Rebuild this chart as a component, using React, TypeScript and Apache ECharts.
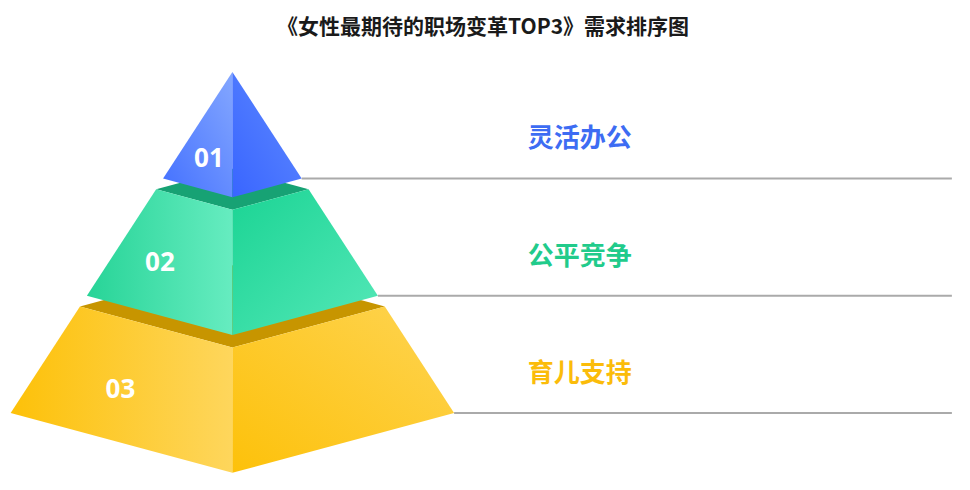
import { useEffect, useRef } from 'react';
import * as echarts from 'echarts';

// ranking of the top 3 demands, top of the pyramid first
const ranks = ['01', '02', '03'];
const demands = ['灵活办公', '公平竞争', '育儿支持'];
const titleText = '《女性最期待的职场变革TOP3》需求排序图';

// colours per tier: left face, right face (with gradient direction), top face, label
const palette = [
  {
    left: ['#4370ff', '#84a7ff'], leftDir: [0, 1, 1, 0],
    right: ['#3965ff', '#5f8aff'], rightDir: [0, 1, 1, 0],
    top: '#2f55d8', label: '#3d6cf3',
  },
  {
    left: ['#27d497', '#66ecc0'], leftDir: [0, 0, 1, 0],
    right: ['#1bd494', '#55e8b8'], rightDir: [0, 0, 1, 1],
    top: '#17a274', label: '#21cb8b',
  },
  {
    left: ['#fdc109', '#fed65c'], leftDir: [0, 0, 1, 0],
    right: ['#fdc10a', '#fed452'], rightDir: [0, 1, 1, 0],
    top: '#c79500', label: '#fbbc0a',
  },
];

// where the rank number sits on each tier's left face: [x, depth below tier top]
const numberPos = [
  [-0.22, 0.8],
  [-0.68, 0.67],
  [-1.05, 0.77],
];

const SLOPE = 0.65; // half width per unit of depth
const TILT = 0.27; // how far the front corner sits below the side corners
const GAP = 0.1;

export default function App() {
  const chartRef = useRef<HTMLDivElement>(null);

  useEffect(() => {
    document.body.style.margin = '0';
    const chart = echarts.init(chartRef.current, null, { renderer: 'svg' });

    const renderItem = (params: any, api: any) => {
      const i = api.value(0);
      const c = palette[i];
      const top = i * (1 + GAP);
      const bot = top + 1;
      const ht = SLOPE * top;
      const hb = SLOPE * bot;
      const p = (x: number, y: number) => api.coord([x, y]);

      const tL = p(-ht, top), tR = p(ht, top), tF = p(0, top + TILT * ht), tB = p(0, top - TILT * ht);
      const bL = p(-hb, bot), bR = p(hb, bot), bF = p(0, bot + TILT * hb);
      const z = 30 - i * 10;
      const grad = (d: number[], cols: string[]) =>
        new echarts.graphic.LinearGradient(d[0], d[1], d[2], d[3], [
          { offset: 0, color: cols[0] },
          { offset: 1, color: cols[1] },
        ]);

      const children: any[] = [
        {
          type: 'polygon',
          z2: z,
          shape: { points: [tL, tB, tR, tF] },
          style: { fill: c.top },
        },
        {
          type: 'polygon',
          z2: z + 1,
          shape: { points: [tL, tF, bF, bL] },
          style: { fill: grad(c.leftDir, c.left) },
        },
        {
          type: 'polygon',
          z2: z + 1,
          shape: { points: [tF, tR, bR, bF] },
          style: { fill: grad(c.rightDir, c.right) },
        },
      ];

      const np = p(numberPos[i][0], top + numberPos[i][1]);
      children.push({
        type: 'text',
        z2: z + 5,
        x: np[0],
        y: np[1],
        style: {
          text: ranks[i],
          fill: '#ffffff',
          fontSize: 26,
          fontWeight: 'bold',
          fontFamily: '"Open Sans", "Noto Sans", sans-serif',
          align: 'center',
          verticalAlign: 'middle',
        },
      });

      const lineEnd = p(6.75, bot);
      children.push({
        type: 'line',
        z2: 1,
        shape: { x1: bR[0], y1: bR[1], x2: lineEnd[0], y2: lineEnd[1] },
        style: { stroke: '#aaaaaa', lineWidth: 2 },
      });

      const lp = p(3.26, bot - 0.4);
      children.push({
        type: 'text',
        z2: 1,
        x: lp[0],
        y: lp[1],
        style: {
          text: demands[i],
          fill: c.label,
          fontSize: 26,
          fontWeight: 'bold',
          fontFamily: '"Noto Sans CJK SC", sans-serif',
          align: 'center',
          verticalAlign: 'middle',
        },
      });

      return { type: 'group', children };
    };

    chart.setOption({
      animation: false,
      title: {
        text: titleText,
        left: 478,
        textAlign: 'center',
        top: 9,
        textStyle: {
          fontSize: 21,
          fontWeight: 'bold',
          color: '#1a1a1a',
          fontFamily: '"Noto Sans CJK SC", sans-serif',
        },
      },
      grid: { left: 0, right: 0, top: 72, bottom: 77 },
      xAxis: { type: 'value', min: -2.18, max: 6.92, show: false },
      yAxis: { type: 'value', min: 0, max: 3.2, inverse: true, show: false },
      series: [
        {
          type: 'custom',
          clip: false,
          renderItem,
          encode: { x: -1, y: -1 },
          data: ranks.map((r, i) => [i]),
        },
      ],
    });

    return () => {
      chart.dispose();
    };
  }, []);

  return <div ref={chartRef} style={{ width: '970px', height: '490px' }} />;
}
